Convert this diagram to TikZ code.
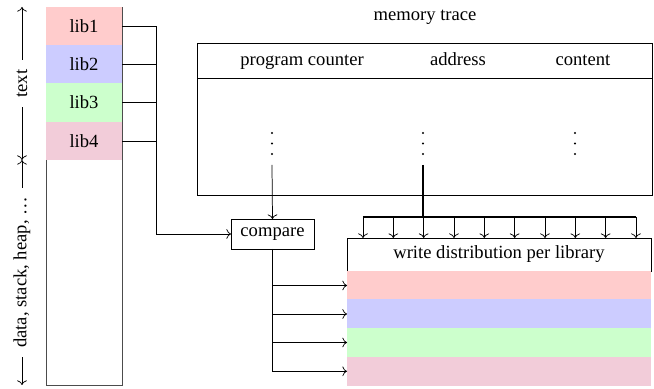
\documentclass[tikz,border=0pt]{standalone}
\usepackage{fontspec}
\setmainfont{Liberation Serif}[Ligatures=TeX]
\usetikzlibrary{arrows.meta}
\begin{document}
\begin{tikzpicture}[x=0.5376pt,y=-0.5376pt,
  libbox/.style={minimum width=40.86pt,minimum height=20.56pt,inner sep=0pt,outer sep=0pt},
  band/.style={minimum width=163.4pt,minimum height=15.6pt,inner sep=0pt,outer sep=0pt},
  plainbox/.style={draw,inner sep=0pt,outer sep=0pt},
  hdr/.style={inner sep=0pt,anchor=base},
  axislabel/.style={fill=white,rotate=90,inner xsep=5pt,inner ysep=1pt},
  dot/.style={circle,fill,inner sep=0pt,minimum size=1.1pt},
  conn/.style={->}]
\useasboundingbox (0,0) rectangle (654,389);

% memory layout column
\node[draw=black!70,minimum width=40.86pt,minimum height=203.2pt,inner sep=0pt,outer sep=0pt]
  (col) at (84,196) {};
\node[libbox,fill=red!20]    (lib1) at (84,26.1)  {lib1};
\node[libbox,fill=blue!20]   (lib2) at (84,64.4)  {lib2};
\node[libbox,fill=green!20]  (lib3) at (84,102.6) {lib3};
\node[libbox,fill=purple!20] (lib4) at (84,140.9) {lib4};

% axis at the left of the column
\coordinate (axtop) at (22,7);
\coordinate (axmid) at (22,160);
\coordinate (axbot) at (22,385);
\draw[<->] (axmid) -- node[axislabel] (txtlabel) {text} (axtop);
\draw[<->] (axbot) -- node[axislabel] (datalabel) {data, stack, heap, \dots} (axmid);

% memory trace table
\node (mtitle) at (425,17) {memory trace};
\node[plainbox,minimum width=244.6pt,minimum height=18.8pt] (mhead) at (424.5,60.5) {};
\node[plainbox,minimum width=244.6pt,minimum height=62.9pt] (mbody) at (424.5,136.5) {};
\node[hdr] (hpc)   at (302,66) {program counter};
\node[hdr] (haddr) at (458,66) {address};
\node[hdr] (hcont) at (583,66) {content};
% column continuation dots
\foreach \nm/\cx in {pc/272,addr/423,cont/575} {
  \foreach \k/\cy in {1/133,2/143.5,3/154} {
    \node[dot] (d\nm\k) at (\cx,\cy) {};
  }
}

% compare box
\node[plainbox,minimum width=44.6pt,minimum height=16.1pt] (cmp) at (272.5,234) {compare};

% write distribution box and per-library bands
\node[plainbox,minimum width=163.4pt,minimum height=17.7pt] (wd) at (499,254.5) {write distribution per library};
\node[band,fill=red!20]    (b1) at (499,285.5) {};
\node[band,fill=blue!20]   (b2) at (499,314)   {};
\node[band,fill=green!20]  (b3) at (499,342.5) {};
\node[band,fill=purple!20] (b4) at (499,371.3) {};

% libraries to compare
\coordinate (bus) at (156,234);
\draw[conn] (lib1.east) -| (bus) -- (cmp.west);
\draw (lib2.east) -- (lib2.east -| bus);
\draw (lib3.east) -- (lib3.east -| bus);
\draw (lib4.east) -- (lib4.east -| bus);

% program counter to compare
\coordinate (pcfoot) at (272,165);
\draw[conn] (pcfoot) -- (cmp.north);

% address fan-out onto the distribution box
\coordinate (addrfoot) at (423,165);
\coordinate (fanjoin) at (423,217);
\coordinate (fanl) at (363,217);
\coordinate (fanr) at (636,217);
\draw[very thick] (addrfoot) -- (fanjoin);
\draw[semithick] (fanl) -- (fanr);
\foreach \i in {0,...,9} {
  \coordinate (fan\i) at ({363+\i*30.33},217);
  \draw[conn] (fan\i) -- (fan\i |- wd.north);
}

% compare to the library bands
\coordinate (cmpfoot) at (cmp.south |- b4.west);
\draw[semithick] (cmp.south) -- (cmpfoot);
\draw[conn] (cmp.south |- b1.west) -- (b1.west);
\draw[conn] (cmp.south |- b2.west) -- (b2.west);
\draw[conn] (cmp.south |- b3.west) -- (b3.west);
\draw[conn] (cmpfoot) -- (b4.west);
\end{tikzpicture}
\end{document}
